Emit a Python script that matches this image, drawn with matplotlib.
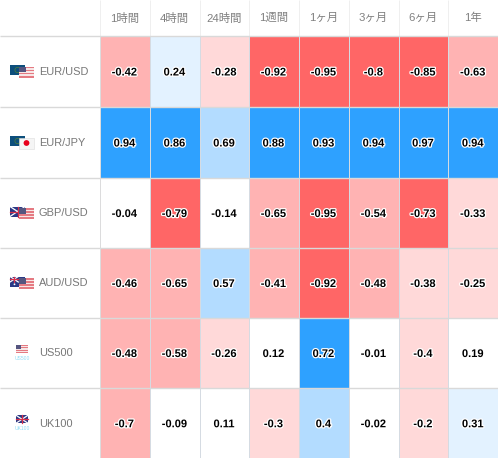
import numpy as np
import matplotlib
matplotlib.use("Agg")
import matplotlib.pyplot as plt
import matplotlib.patheffects as pe
from matplotlib.colors import ListedColormap, BoundaryNorm
from matplotlib.patches import Rectangle, Circle

plt.rcParams['font.family'] = ['Liberation Sans', 'Noto Sans CJK JP', 'DejaVu Sans']

periods = ['1時間', '4時間', '24時間', '1週間', '1ヶ月', '3ヶ月', '6ヶ月', '1年']
pairs = ['EUR/USD', 'EUR/JPY', 'GBP/USD', 'AUD/USD', 'US500', 'UK100']
flags = [('eu', 'us'), ('eu', 'jp'), ('gb', 'us'), ('au', 'us'), ('us',), ('gb',)]

eur_usd = [-0.42, 0.24, -0.28, -0.92, -0.95, -0.8, -0.85, -0.63]
eur_jpy = [0.94, 0.86, 0.69, 0.88, 0.93, 0.94, 0.97, 0.94]
gbp_usd = [-0.04, -0.79, -0.14, -0.65, -0.95, -0.54, -0.73, -0.33]
aud_usd = [-0.46, -0.65, 0.57, -0.41, -0.92, -0.48, -0.38, -0.25]
us500 = [-0.48, -0.58, -0.26, 0.12, 0.72, -0.01, -0.4, 0.19]
uk100 = [-0.7, -0.09, 0.11, -0.3, 0.4, -0.02, -0.2, 0.31]
values = np.array([eur_usd, eur_jpy, gbp_usd, aud_usd, us500, uk100])

bins = [-1, -0.7, -0.4, -0.15, 0.2, 0.4, 0.7, 1]
colours = ['#ff6666', '#ffb3b3', '#ffd9d9', '#ffffff', '#e3f2ff', '#b3dcff', '#2ea1ff']

# cell edges in pixels of the original table
x_edges = [99.5, 149.5, 199.5, 248.5, 298.5, 348.5, 398.5, 447.5, 498]
y_edges = [35.5, 106.5, 177.5, 247.5, 317.5, 387.5, 458]
W, H = 498, 458

fig = plt.figure(figsize=(4.98, 4.58), dpi=100)
ax = fig.add_axes([0, 0, 1, 1])
ax.set_xlim(0, W)
ax.set_ylim(H, 0)
ax.axis('off')

cmap = ListedColormap(colours)
norm = BoundaryNorm(bins, cmap.N)
ax.pcolormesh(x_edges, y_edges, values, cmap=cmap, norm=norm,
              edgecolor='#d5dbe2', linewidth=0.7)

# header and row rules
ax.vlines(x_edges[:-1], 0, y_edges[0], color='#efefef', lw=0.7)
ax.hlines(y_edges[:-1], 0, W, color='#d9d9d9', lw=1.0)
ax.vlines(x_edges[0], y_edges[0], H, color='#dddddd', lw=0.7)

halo = [pe.withStroke(linewidth=1.8, foreground='white')]
for j, name in enumerate(periods):
    xc = (x_edges[j] + x_edges[j + 1]) / 2
    ax.text(xc, 18, name, ha='center', va='center', fontsize=8.2, color='#808080')

for i, row in enumerate(values):
    yc = (y_edges[i] + y_edges[i + 1]) / 2
    for j, v in enumerate(row):
        xc = (x_edges[j] + x_edges[j + 1]) / 2
        ax.text(xc, yc + 1.5, f'{v:g}', ha='center', va='center', fontsize=8,
                fontweight='bold', color='black', path_effects=halo, zorder=5)
    ax.text(38.7, yc + 1, pairs[i], ha='left', va='center', fontsize=7.9, color='#777777')


def draw_flag(kind, x, y, w, h, z):
    if kind == 'eu':
        ax.add_patch(Rectangle((x, y), w, h, fc='#0d4f7c', ec='none', zorder=z))
        ax.add_patch(Circle((x + w / 2, y + h / 2), 2.6, fc='none', ec='#4f7f3a', lw=0.5, zorder=z))
    elif kind == 'us':
        for k in range(7):
            c = '#e57a82' if k % 2 == 0 else '#f7e6e6'
            ax.add_patch(Rectangle((x, y + k * h / 7), w, h / 7 + 0.1, fc=c, ec='none', zorder=z))
        ax.add_patch(Rectangle((x, y), w * 0.45, h * 0.5, fc='#55557f', ec='none', zorder=z))
    elif kind == 'jp':
        ax.add_patch(Rectangle((x, y), w, h, fc='#f5f5f5', ec='#dddddd', lw=0.4, zorder=z))
        ax.add_patch(Circle((x + w / 2, y + h / 2), 2.9, fc='#e8001c', ec='none', zorder=z))
    elif kind in ('gb', 'au'):
        ax.add_patch(Rectangle((x, y), w, h, fc='#2b3a86', ec='none', zorder=z))
        uw = w if kind == 'gb' else w * 0.55
        uh = h if kind == 'gb' else h * 0.55
        ax.plot([x, x + uw], [y, y + uh], color='white', lw=0.9, zorder=z)
        ax.plot([x, x + uw], [y + uh, y], color='white', lw=0.9, zorder=z)
        ax.plot([x + uw / 2] * 2, [y, y + uh], color='#d8304a', lw=0.9, zorder=z)
        ax.plot([x, x + uw], [y + uh / 2] * 2, color='#d8304a', lw=0.9, zorder=z)
        if kind == 'au':
            ax.add_patch(Circle((x + w * 0.3, y + h * 0.78), 0.9, fc='white', ec='none', zorder=z))
            ax.add_patch(Circle((x + w * 0.8, y + h * 0.5), 0.7, fc='white', ec='none', zorder=z))


for i, row_flags in enumerate(flags):
    yc = (y_edges[i] + y_edges[i + 1]) / 2
    if len(row_flags) == 2:
        draw_flag(row_flags[0], 10, yc - 6, 15, 10, 3)
        draw_flag(row_flags[1], 19, yc - 4.5, 15, 11, 4)
    else:
        draw_flag(row_flags[0], 16, yc - 7.5, 12, 8, 3)
        ax.text(22, yc + 5.5, pairs[i], ha='center', va='center', fontsize=3.6,
                color='#8fdcf5')

fig.savefig('out.png', dpi=100)
